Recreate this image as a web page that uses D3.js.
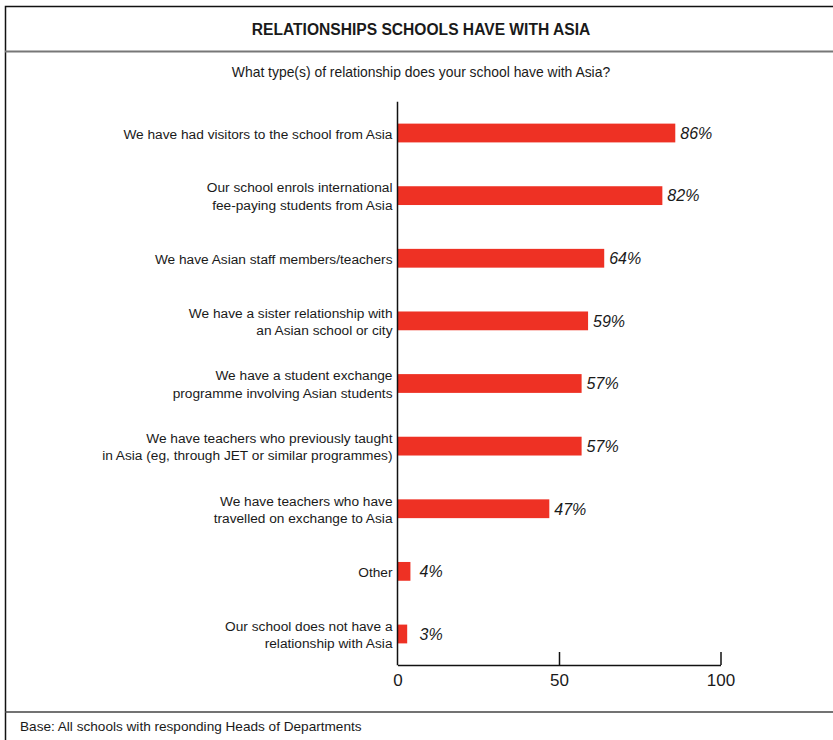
<!DOCTYPE html>
<html>
<head>
<meta charset="utf-8">
<script src="https://cdn.jsdelivr.net/npm/d3@7"></script>
<style>
  html, body { margin: 0; padding: 0; background: #fff; }
  svg { display: block; }
</style>
</head>
<body>
<svg id="chart" width="833" height="740"></svg>
<script>
// Survey responses: relationship types, share of schools (%)
const categories = [
  "We have had visitors to the school from Asia",
  "Our school enrols international\nfee-paying students from Asia",
  "We have Asian staff members/teachers",
  "We have a sister relationship with\nan Asian school or city",
  "We have a student exchange\nprogramme involving Asian students",
  "We have teachers who previously taught\nin Asia (eg, through JET or similar programmes)",
  "We have teachers who have\ntravelled on exchange to Asia",
  "Other",
  "Our school does not have a\nrelationship with Asia"
];
const values = [86, 82, 64, 59, 57, 57, 47, 4, 3];
const xTicks = [0, 50, 100];

const title = "RELATIONSHIPS SCHOOLS HAVE WITH ASIA";
const subtitle = "What type(s) of relationship does your school have with Asia?";
const baseNote = "Base: All schools with responding Heads of Departments";

const svg = d3.select("#chart");
const W = 833, H = 740;
const textColor = "#1a1a1a";
const sans = "'Liberation Sans', Arial, sans-serif";

// Frame
svg.append("path")
  .attr("d", `M5.5,${H} V6.5 H${W}`)
  .attr("fill", "none").attr("stroke", "#111").attr("stroke-width", 1.5);
svg.append("line")
  .attr("x1", 5).attr("x2", W).attr("y1", 51.5).attr("y2", 51.5)
  .attr("stroke", "#777").attr("stroke-width", 2.2);
svg.append("line")
  .attr("x1", 5).attr("x2", W).attr("y1", 712).attr("y2", 712)
  .attr("stroke", "#444").attr("stroke-width", 1.4);

svg.append("text")
  .attr("x", 421).attr("y", 30).attr("dy", "0.35em")
  .attr("text-anchor", "middle")
  .attr("font-family", sans).attr("font-weight", "bold")
  .attr("font-size", 15.6).attr("fill", textColor)
  .text(title);

svg.append("text")
  .attr("x", 421).attr("y", 72).attr("dy", "0.35em")
  .attr("text-anchor", "middle")
  .attr("font-family", sans)
  .attr("font-size", 13.9).attr("fill", textColor)
  .text(subtitle);

svg.append("text")
  .attr("x", 20).attr("y", 726).attr("dy", "0.35em")
  .attr("font-family", sans)
  .attr("font-size", 13.6).attr("fill", textColor)
  .text(baseNote);

// Scales
const x = d3.scaleLinear().domain([0, 100]).range([397.5, 720.5]);
const y = d3.scaleBand().domain(categories).range([101.7, 665.3])
  .paddingInner(0.7).paddingOuter(0.35);

// Bars
svg.append("g").selectAll("rect")
  .data(values)
  .join("rect")
  .attr("x", x(0))
  .attr("y", (d, i) => y(categories[i]))
  .attr("width", d => x(d) - x(0))
  .attr("height", y.bandwidth())
  .attr("fill", "#ee3124");

// Value labels
svg.append("g").selectAll("text")
  .data(values)
  .join("text")
  .attr("x", d => Math.max(x(d) + 5, x(0) + 22))
  .attr("y", (d, i) => y(categories[i]) + y.bandwidth() / 2)
  .attr("dy", "0.36em")
  .attr("font-family", sans)
  .attr("font-style", "italic")
  .attr("font-size", 16).attr("fill", textColor)
  .text(d => d + "%");

// Category axis (left)
const yAxis = svg.append("g")
  .attr("transform", `translate(${x(0)},0)`)
  .call(d3.axisLeft(y).tickSize(0).tickPadding(5).tickFormat(""));
yAxis.select(".domain").attr("stroke", "#111").attr("stroke-width", 1.5)
  .attr("d", `M0,101.7V665.3`);
yAxis.selectAll(".tick").each(function (d) {
  const lines = d.split("\n");
  const t = d3.select(this).select("text")
    .attr("font-family", sans)
    .attr("font-size", 13.7)
    .attr("fill", textColor)
    .attr("x", -5)
    .attr("dy", null);
  t.text(null);
  const lh = 17.5;
  lines.forEach((ln, k) => {
    t.append("tspan")
      .attr("x", -5)
      .attr("y", (k - (lines.length - 1) / 2) * lh + 0.8)
      .attr("dy", "0.35em")
      .text(ln);
  });
});

// Value axis (bottom)
const xAxis = svg.append("g")
  .attr("transform", "translate(0,665)")
  .call(d3.axisBottom(x).tickValues(xTicks).tickSizeInner(-13).tickSizeOuter(0).tickPadding(9));
xAxis.select(".domain").attr("stroke", "#111").attr("stroke-width", 1.5);
xAxis.selectAll(".tick line").attr("stroke", "#111").attr("stroke-width", 1.5)
  .filter(d => d === 0).remove();
xAxis.selectAll(".tick text")
  .attr("font-family", sans)
  .attr("font-size", 17).attr("fill", textColor);
</script>
</body>
</html>
